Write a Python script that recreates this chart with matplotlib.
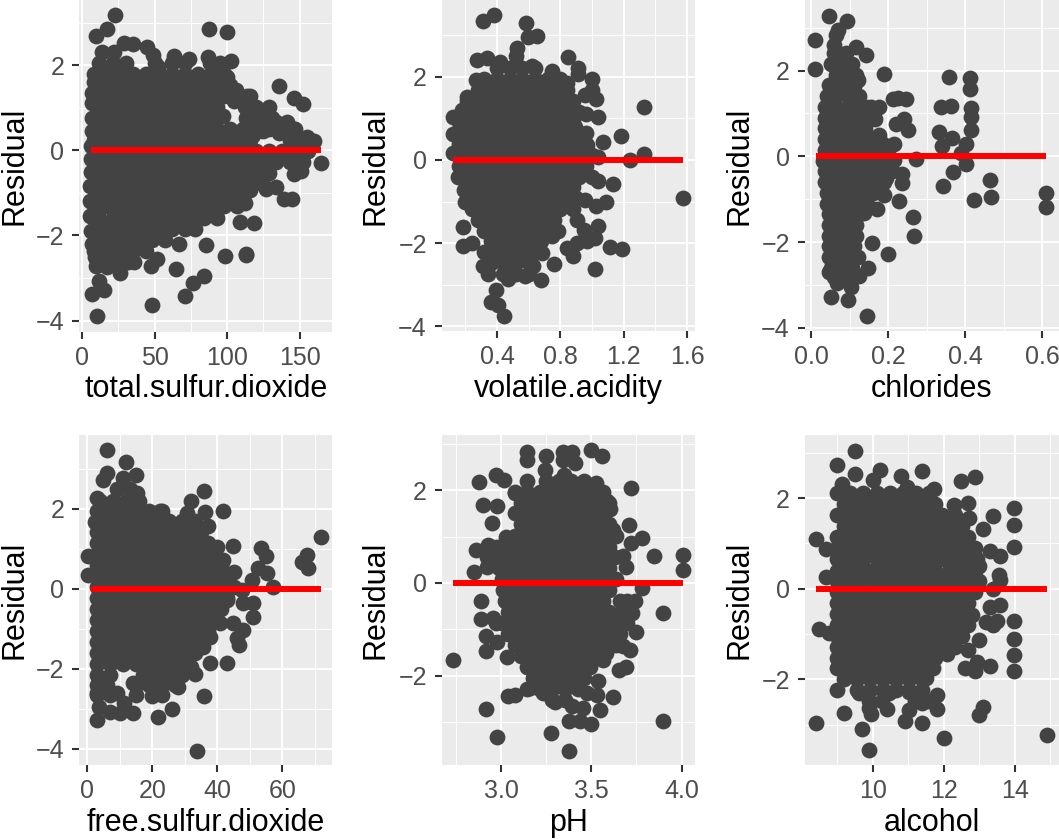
import matplotlib
matplotlib.use('agg')
import matplotlib.pyplot as plt

plt.rcParams['font.family'] = ['Liberation Sans', 'DejaVu Sans']

# *_edge_*: dots that can be made out on the rim of each cloud.
# *_levels / *_rows: estimated points inside the solid mass, one row of x per residual level.

# total.sulfur.dioxide
tsd_edge_x = [23, 87.8, 99.7, 17.5, 9.4, 29, 35.4, 44.8, 48.7, 63.4, 74, 86.6, 103, 52.4, 94, 100, 136, 146, 152, 114,
              129, 106, 118, 120, 134, 141, 146, 155, 160, 165, 151, 146, 151, 134, 127, 139, 145, 118.5, 109, 112,
              116, 92, 66.6, 85.7, 98.5, 113, 113, 84, 76.7, 65, 71, 48, 51.5, 47.5, 26, 31.5, 9.4, 12, 15, 6.7, 10, 17,
              8, 7, 7, 6.7, 7, 6, 6, 6, 5.5, 5.5, 5.5, 6, 7, 9,
              105, 97, 128, 125, 136, 118]
tsd_edge_y = [3.17, 2.86, 2.77, 2.84, 2.68, 2.53, 2.49, 2.43, 2.24, 2.21, 2.15, 2.18, 2.1, 1.96, 1.96, 1.73, 1.5, 1.22, 1.08, 1.28,
              1.02, 1.41, 1.02, 0.78, 0.67, 0.67, 0.51, 0.31, 0.22, -0.31, -0.49, -0.55, -0.16, -0.86, -0.9, -1.14, -1.15, -1.71, -1.69, -1.25,
              -0.94, -1.55, -2.21, -2.22, -2.49, -2.43, -2.47, -2.95, -3.12, -2.78, -3.43, -3.64, -2.55, -2.72, -2.89, -2.63, -2.73, -3.07, -3.29, -3.37, -3.9, -2.75,
              1.6, 1.35, 1.1, 0.75, 0.45, 0.1, -0.2, -0.5, -0.85, -1.2, -1.55, -1.9, -2.2, -2.5,
              1.15, 0.8, 0.72, 0.45, 0.4, 0.35]
tsd_levels = [2.3, 2.06, 1.8, 1.54, 1.28, 1.02, 0.76, 0.5, 0.24, -0.02, -0.28, -0.54, -0.8, -1.06, -1.32, -1.58, -1.84, -2.1, -2.36, -2.62]
tsd_rows = [
    [14, 22],
    [12, 21, 30, 50, 62, 71, 88, 95],
    [8, 17, 26, 35, 44, 53, 62, 71, 80, 89, 98],
    [12, 21, 30, 39, 48, 57, 66, 75, 84, 93, 102],
    [8, 17, 26, 35, 44, 53, 62, 71, 80, 89, 98, 107, 116],
    [12, 21, 30, 39, 48, 57, 66, 75, 84, 93, 112, 120],
    [8, 17, 26, 35, 44, 53, 62, 71, 80, 89, 113, 122, 131],
    [12, 21, 30, 39, 48, 57, 66, 75, 84, 93, 102, 111, 120, 129, 138, 147],
    [8, 17, 26, 35, 44, 53, 62, 71, 80, 89, 98, 107, 116, 143, 152],
    [12, 21, 30, 39, 48, 57, 66, 75, 84, 93, 102, 111, 120, 129, 138, 147, 156],
    [8, 17, 26, 35, 44, 53, 62, 71, 80, 89, 98, 107, 116, 125, 134, 143, 152],
    [12, 21, 30, 39, 48, 57, 66, 75, 84, 93, 102, 111, 120, 129],
    [8, 17, 26, 35, 44, 53, 62, 71, 80, 89, 98, 107, 116, 125],
    [12, 21, 30, 39, 48, 57, 66, 75, 84, 93, 102, 111],
    [8, 17, 26, 35, 44, 53, 62, 71, 80, 89, 98, 107],
    [12, 21, 30, 39, 48, 57, 66, 75, 84, 93],
    [8, 17, 26, 35, 44, 53, 62, 71, 78],
    [12, 21, 30, 39, 48, 57],
    [8, 17, 26, 35, 44],
    [12, 21, 30, 36],
]
tsd_line = [6, 165]

# volatile.acidity
va_edge_x = [0.383, 0.314, 0.583, 0.598, 0.655, 0.524, 0.52, 0.85, 0.276, 0.335, 0.42, 0.62, 0.914, 0.75, 0.914, 1.0, 0.27, 0.84, 1.0, 0.956,
             1.025, 0.208, 1.328, 0.124, 0.177, 0.962, 1.04, 0.893, 0.124, 1.18, 1.067, 0.966, 0.124, 1.328, 1.04, 1.24, 0.156, 1.04, 1.13, 0.19,
             1.577, 0.2, 1.09, 1.025, 0.956, 0.183, 0.183, 0.24, 1.04, 1.02, 0.947, 0.903, 0.745, 0.785, 0.714, 1.113, 1.19, 0.84, 0.878, 0.903,
             0.97, 0.762, 1.02, 0.682, 0.63, 0.676, 0.314, 0.344, 0.472, 0.577, 0.392, 0.362, 0.408, 0.442, 0.387, 0.46]
va_edge_y = [3.47, 3.33, 3.28, 2.96, 2.98, 2.68, 2.5, 2.46, 2.4, 2.44, 2.36, 2.26, 2.2, 2.14, 2.06, 1.94, 1.92, 1.84, 1.68, 1.56,
             1.46, 1.52, 1.26, 1.02, 1.2, 1.1, 1.02, 0.8, 0.62, 0.58, 0.42, 0.36, 0.16, 0.14, 0.06, 0.0, -0.4, -0.5, -0.58, -0.72,
             -0.92, -1.0, -1.0, -1.1, -0.96, -1.62, -2.06, -2.0, -1.6, -1.88, -1.68, -1.44, -1.84, -1.72, -1.68, -2.1, -2.14, -2.12, -2.32, -2.0,
             -1.96, -2.5, -2.62, -2.24, -2.56, -2.88, -2.54, -2.74, -2.86, -2.8, -3.12, -3.42, -3.48, -3.74, -2.32, -2.68]
va_levels = [2.2, 1.94, 1.68, 1.42, 1.16, 0.9, 0.64, 0.38, 0.12, -0.14, -0.4, -0.66, -0.92, -1.18, -1.44, -1.7, -1.96, -2.22, -2.48, -2.74]
va_rows = [
    [0.40, 0.48, 0.56, 0.64],
    [0.32, 0.40, 0.48, 0.56, 0.64, 0.72, 0.80],
    [0.28, 0.36, 0.44, 0.52, 0.60, 0.68, 0.76, 0.84],
    [0.21, 0.24, 0.32, 0.40, 0.48, 0.56, 0.64, 0.72, 0.80, 0.88],
    [0.20, 0.28, 0.36, 0.44, 0.52, 0.60, 0.68, 0.76, 0.84, 0.92],
    [0.16, 0.24, 0.32, 0.40, 0.48, 0.56, 0.64, 0.72, 0.80, 0.88],
    [0.20, 0.28, 0.36, 0.44, 0.52, 0.60, 0.68, 0.76, 0.84, 0.92, 0.96],
    [0.16, 0.24, 0.32, 0.40, 0.48, 0.56, 0.64, 0.72, 0.80, 0.88, 0.96],
    [0.16, 0.20, 0.28, 0.36, 0.44, 0.52, 0.60, 0.68, 0.76, 0.84, 0.92, 1.0],
    [0.16, 0.24, 0.32, 0.40, 0.48, 0.56, 0.64, 0.72, 0.80, 0.88, 0.96],
    [0.20, 0.28, 0.36, 0.44, 0.52, 0.60, 0.68, 0.76, 0.84, 0.92, 1.0],
    [0.24, 0.32, 0.40, 0.48, 0.56, 0.64, 0.72, 0.80, 0.88],
    [0.22, 0.28, 0.36, 0.44, 0.52, 0.60, 0.68, 0.76, 0.84, 0.90],
    [0.24, 0.32, 0.40, 0.48, 0.56, 0.64, 0.72, 0.80, 0.88],
    [0.28, 0.36, 0.44, 0.52, 0.60, 0.68, 0.76],
    [0.32, 0.40, 0.48, 0.56, 0.64],
    [0.36, 0.44, 0.52, 0.60, 0.68],
    [0.32, 0.40, 0.48, 0.56, 0.64],
    [0.36, 0.44, 0.52, 0.60],
    [0.44, 0.52, 0.60],
]
va_line = [0.124, 1.577]

# chlorides
chl_edge_x = [0.046, 0.094, 0.07, 0.063, 0.011, 0.059, 0.115, 0.143, 0.011, 0.19, 0.358, 0.412, 0.412, 0.121, 0.046, 0.226, 0.245, 0.213, 0.156, 0.176,
              0.336, 0.362, 0.414, 0.414, 0.414, 0.166, 0.241, 0.219, 0.251, 0.332, 0.366, 0.34, 0.401, 0.176, 0.158, 0.215, 0.185, 0.388, 0.271, 0.401,
              0.215, 0.236, 0.235, 0.369, 0.463, 0.343, 0.193, 0.466, 0.423, 0.61, 0.61, 0.229, 0.188, 0.171, 0.264, 0.266, 0.137, 0.157, 0.2, 0.121,
              0.147, 0.124, 0.102, 0.05, 0.096, 0.144, 0.068, 0.046]
chl_edge_y = [3.28, 3.16, 2.94, 2.83, 2.71, 2.59, 2.55, 2.36, 2.03, 1.93, 1.84, 1.82, 1.57, 1.79, 1.66, 1.35, 1.33, 1.33, 1.16, 1.16,
              1.16, 1.17, 1.12, 0.92, 0.61, 0.87, 0.87, 0.75, 0.61, 0.57, 0.43, 0.25, 0.3, 0.5, 0.42, 0.3, 0.3, 0.07, -0.05, -0.18,
              -0.09, -0.41, -0.63, -0.37, -0.55, -0.69, -0.51, -0.95, -1.02, -0.86, -1.19, -1.04, -0.9, -1.23, -1.42, -1.86, -1.33, -2.03, -2.28, -2.34,
              -2.59, -2.79, -3.04, -3.27, -3.35, -3.72, -2.96, -2.69]
chl_levels = [2.4, 2.15, 1.9, 1.65, 1.4, 1.15, 0.9, 0.65, 0.4, 0.15, -0.1, -0.35, -0.6, -0.85, -1.1, -1.35, -1.6, -1.85, -2.1, -2.35, -2.6, -2.8]
chl_rows = [
    [0.06, 0.09],
    [0.05, 0.08, 0.105],
    [0.065, 0.095, 0.115],
    [0.05, 0.08, 0.11],
    [0.04, 0.065, 0.095, 0.125],
    [0.035, 0.065, 0.095, 0.125, 0.145],
    [0.035, 0.05, 0.08, 0.11, 0.14],
    [0.035, 0.065, 0.095, 0.125, 0.14],
    [0.035, 0.05, 0.08, 0.11, 0.14],
    [0.035, 0.065, 0.095, 0.125, 0.15, 0.18, 0.2],
    [0.03, 0.05, 0.08, 0.11, 0.14, 0.17, 0.19],
    [0.035, 0.065, 0.095, 0.125, 0.155, 0.185, 0.21],
    [0.035, 0.05, 0.08, 0.11, 0.14, 0.17, 0.19],
    [0.04, 0.07, 0.10, 0.13, 0.16],
    [0.04, 0.055, 0.085, 0.115, 0.145],
    [0.045, 0.075, 0.105, 0.125],
    [0.045, 0.06, 0.09, 0.115],
    [0.045, 0.075, 0.105, 0.115],
    [0.045, 0.06, 0.09, 0.11],
    [0.045, 0.075, 0.10],
    [0.05, 0.065, 0.09, 0.105],
    [0.06, 0.09],
]
chl_line = [0.013, 0.61]

# free.sulfur.dioxide
fsd_edge_x = [6, 11.9, 15, 6, 4.9, 11, 35.9, 32, 41.8, 2.9, 15.2, 22.4, 30.6, 36.2, 37.2, 44.9, 40, 53.6, 54.9, 67.7,
              66, 68, 71.9, 0.3, 0.3, 2.4, 41.8, 45.2, 52.6, 55.2, 50.6, 57, 47.5, 48, 51, 51, 42.9, 44.9, 48, 46,
              46.8, 40.8, 37.7, 35.7, 37.7, 42.9, 32, 33.1, 35.9, 28, 26, 21.9, 22.9, 19.8, 15, 14.2, 10, 7, 3.7, 3.1,
              33.8, 2.9, 9, 11.3, 14.2]
fsd_edge_y = [3.47, 3.18, 2.85, 2.89, 2.73, 2.77, 2.45, 2.2, 1.95, 2.28, 2.39, 1.95, 1.89, 1.93, 1.58, 1.08, 1.06, 1.03, 0.83, 0.85,
              0.67, 0.53, 1.29, 0.83, 0.35, 1.68, 0.73, 0.43, 0.52, 0.39, 0.23, 0.06, -0.03, -0.36, -0.36, -0.69, -0.28, -0.86, -1.03, -1.23,
              -1.4, -0.86, -1.19, -1.44, -1.84, -1.86, -1.94, -2.13, -2.67, -2.44, -3.0, -3.19, -2.65, -2.67, -2.65, -3.11, -3.11, -3.07, -2.94, -3.28,
              -4.04, -2.61, -2.61, -2.86, -2.36]
fsd_levels = [2.5, 2.2, 1.95, 1.7, 1.42, 1.15, 0.87, 0.6, 0.32, 0.05, -0.22, -0.5, -0.77, -1.05, -1.32, -1.6, -1.87, -2.15, -2.4, -2.65]
fsd_rows = [
    [9, 13],
    [4, 8, 12, 16],
    [3, 7, 11, 15, 19, 23],
    [5, 9, 13, 17, 21, 25, 29, 33],
    [3, 7, 11, 15, 19, 23, 27, 31, 35],
    [3, 5, 9, 13, 17, 21, 25, 29, 33, 37],
    [3, 7, 11, 15, 19, 23, 27, 31, 35, 39],
    [3, 5, 9, 13, 17, 21, 25, 29, 33, 37, 41],
    [3, 7, 11, 15, 19, 23, 27, 31, 35, 39, 43],
    [3, 5, 9, 13, 17, 21, 25, 29, 33, 37, 41, 45],
    [3, 7, 11, 15, 19, 23, 27, 31, 35, 39, 43],
    [3, 5, 9, 13, 17, 21, 25, 29, 33, 37, 41],
    [3, 7, 11, 15, 19, 23, 27, 31, 35, 39],
    [3, 5, 9, 13, 17, 21, 25, 29, 33, 37],
    [3, 7, 11, 15, 19, 23, 27, 31, 35],
    [3, 5, 9, 13, 17, 21, 25, 29, 33],
    [3, 7, 11, 15, 19, 23, 27, 31],
    [3, 7, 17, 21, 25, 29],
    [3, 6, 15, 19, 23, 27],
    [3, 7],
]
fsd_line = [1, 72]

# pH
ph_edge_x = [3.146, 3.146, 3.249, 3.345, 3.391, 3.345, 3.41, 3.498, 3.561, 3.244, 3.349, 2.97, 3.017, 2.876, 3.146, 3.524, 3.72, 3.077, 2.899, 2.976,
             2.948, 3.585, 3.603, 3.708, 3.782, 3.72, 3.03, 2.926, 2.862, 3.847, 4.01, 4.01, 3.673, 3.691, 2.85, 2.92, 3.62, 3.779, 2.887, 3.742,
             3.899, 2.887, 3.723, 3.747, 2.917, 2.976, 2.917, 2.958, 3.714, 3.677, 2.736, 3.031, 3.581, 3.691, 3.655, 3.566, 3.539, 3.53, 3.474, 3.622,
             3.041, 3.077, 2.915, 3.548, 3.452, 3.391, 3.299, 3.498, 3.437, 3.376, 3.899, 2.978, 3.277, 3.376, 3.16, 3.234, 3.64]
ph_edge_y = [2.83, 2.64, 2.74, 2.83, 2.83, 2.64, 2.58, 2.87, 2.73, 2.44, 2.33, 2.32, 2.22, 2.17, 2.19, 2.15, 2.04, 1.94, 1.68, 1.66,
             1.3, 1.76, 1.6, 1.25, 0.96, 0.86, 1.0, 0.82, 0.7, 0.57, 0.6, 0.27, 0.57, 0.35, 0.24, 0.35, 1.14, -0.12, -0.4, -0.4,
             -0.64, -0.78, -0.65, -1.05, -1.14, -1.27, -1.47, -0.76, -1.45, -1.37, -1.66, -1.6, -1.52, -1.81, -1.89, -1.66, -2.11, -2.42, -2.38, -2.47,
             -2.45, -2.42, -2.73, -2.74, -2.69, -2.65, -2.56, -3.05, -2.98, -2.99, -2.97, -3.33, -3.24, -3.62, -2.27, -2.38, -1.01]
ph_levels = [2.2, 1.97, 1.73, 1.5, 1.26, 1.02, 0.78, 0.55, 0.31, 0.08, -0.16, -0.4, -0.63, -0.87, -1.1, -1.34, -1.58, -1.81, -2.05, -2.29, -2.52]
ph_rows = [
    [3.25, 3.32, 3.39, 3.46],
    [3.075, 3.145, 3.215, 3.285, 3.355, 3.425, 3.495, 3.565],
    [3.11, 3.18, 3.25, 3.32, 3.39, 3.46, 3.53, 3.6],
    [3.075, 3.145, 3.215, 3.285, 3.355, 3.425, 3.495, 3.565],
    [3.11, 3.18, 3.25, 3.32, 3.39, 3.46, 3.53, 3.6],
    [3.075, 3.145, 3.215, 3.285, 3.355, 3.425, 3.495, 3.565, 3.635],
    [2.95, 2.98, 3.04, 3.11, 3.18, 3.25, 3.32, 3.39, 3.46, 3.53, 3.6],
    [2.92, 2.96, 3.005, 3.075, 3.145, 3.215, 3.285, 3.355, 3.425, 3.495, 3.565, 3.63],
    [2.99, 3.04, 3.11, 3.18, 3.25, 3.32, 3.39, 3.46, 3.53, 3.6],
    [3.005, 3.075, 3.145, 3.215, 3.285, 3.355, 3.425, 3.495, 3.565, 3.635],
    [3.01, 3.04, 3.11, 3.18, 3.25, 3.32, 3.39, 3.46, 3.53, 3.6],
    [3.02, 3.075, 3.145, 3.215, 3.285, 3.355, 3.425, 3.495, 3.565, 3.66, 3.7],
    [3.04, 3.11, 3.18, 3.25, 3.32, 3.39, 3.46, 3.53, 3.6, 3.67],
    [2.97, 3.005, 3.075, 3.145, 3.215, 3.285, 3.355, 3.425, 3.495, 3.565, 3.635, 3.7],
    [3.04, 3.11, 3.18, 3.25, 3.32, 3.39, 3.46, 3.53, 3.6, 3.66],
    [3.075, 3.145, 3.215, 3.285, 3.355, 3.425, 3.495, 3.565, 3.635],
    [3.11, 3.18, 3.25, 3.32, 3.39, 3.46, 3.53],
    [3.145, 3.215, 3.285, 3.355, 3.425, 3.495],
    [3.18, 3.25, 3.32, 3.39, 3.46],
    [3.145, 3.215, 3.285, 3.355, 3.425],
    [3.285, 3.355],
]
ph_line = [2.736, 4.01]

# alcohol
alc_edge_x = [9.49, 9.0, 10.2, 9.49, 11.4, 10.8, 12.88, 12.5, 10, 9.15, 11.73, 10.98, 12.3, 12.7, 13.98, 13.39, 13.98, 13.11, 12.71, 13.98,
              8.39, 8.68, 13.3, 13.6, 13.0, 13.56, 13.6, 13.4, 8.68, 13.6, 13.3, 12.8, 8.49, 13.51, 13.39, 13.98, 13.18, 13.98, 13.98, 13.98,
              13.0, 12.7, 12.1, 12.95, 13.3, 12.6, 12.88, 11.7, 11.5, 9.0, 9.62, 11.8, 11.8, 13.11, 13.0, 10.39, 9.96, 9.9, 9.19, 10.9,
              11.02, 11.4, 8.39, 9.69, 9.9, 12, 14.9, 11.4, 10.46, 11.02, 9.0, 8.77]
alc_edge_y = [3.04, 2.73, 2.62, 2.54, 2.6, 2.49, 2.47, 2.38, 2.4, 2.32, 2.19, 2.25, 1.85, 1.9, 1.77, 1.61, 1.4, 1.32, 1.55, 0.91,
              1.1, 0.87, 0.83, 0.73, 0.49, 0.3, 0.19, -0.01, 0.26, -0.35, -0.4, -0.58, -0.89, -0.71, -0.8, -0.71, -0.74, -1.12, -1.46, -1.82,
              -1.13, -1.35, -1.44, -1.61, -1.71, -1.74, -1.81, -1.76, -1.98, -2.24, -2.31, -2.35, -2.66, -2.6, -2.79, -2.65, -2.76, -2.64, -2.75, -2.91,
              -2.68, -2.97, -2.97, -3.1, -3.57, -3.29, -3.23, -2.53, -2.31, -2.27, -0.91, -0.98]
alc_levels = [2.1, 1.86, 1.62, 1.38, 1.13, 0.89, 0.65, 0.4, 0.16, -0.08, -0.32, -0.56, -0.8, -1.04, -1.28, -1.52, -1.76, -2.0, -2.24, -2.48]
alc_rows = [
    [9.0, 9.37, 9.74, 10.11, 10.48, 10.85, 11.22, 11.59],
    [9.18, 9.55, 9.92, 10.29, 10.66, 11.03, 11.4, 11.77],
    [9.0, 9.37, 9.74, 10.11, 10.48, 10.85, 11.22, 11.59, 11.96, 12.33],
    [9.18, 9.55, 9.92, 10.29, 10.66, 11.03, 11.4, 11.77, 12.14, 12.51],
    [9.0, 9.37, 9.74, 10.11, 10.48, 10.85, 11.22, 11.59, 11.96, 12.33, 12.7],
    [9.0, 9.18, 9.55, 9.92, 10.29, 10.66, 11.03, 11.4, 11.77, 12.14, 12.51, 12.88],
    [9.0, 9.37, 9.74, 10.11, 10.48, 10.85, 11.22, 11.59, 11.96, 12.33, 12.7, 12.95],
    [9.0, 9.18, 9.55, 9.92, 10.29, 10.66, 11.03, 11.4, 11.77, 12.14, 12.51, 12.88],
    [9.0, 9.37, 9.74, 10.11, 10.48, 10.85, 11.22, 11.59, 11.96, 12.33, 12.7, 13.0],
    [9.0, 9.18, 9.55, 9.92, 10.29, 10.66, 11.03, 11.4, 11.77, 12.14, 12.51, 12.88],
    [9.0, 9.37, 9.74, 10.11, 10.48, 10.85, 11.22, 11.59, 11.96, 12.33, 12.7],
    [9.0, 9.18, 9.55, 9.92, 10.29, 10.66, 11.03, 11.4, 11.77, 12.14, 12.51],
    [9.0, 9.37, 9.74, 10.11, 10.48, 10.85, 11.22, 11.59, 11.96, 12.33, 12.7],
    [9.0, 9.18, 9.55, 9.92, 10.29, 10.66, 11.03, 11.4, 11.77, 12.14, 12.51],
    [9.0, 9.37, 9.74, 10.11, 10.48, 10.85, 11.22, 11.59, 11.96, 12.33],
    [9.0, 9.18, 9.55, 9.92, 10.29, 10.66, 11.03, 11.4, 11.77],
    [9.0, 9.37, 9.74, 10.11, 10.48, 10.85, 11.22, 11.59],
    [9.18, 9.55, 9.92, 10.29, 10.66, 11.03, 11.4],
    [9.55, 9.92, 10.29, 10.66, 11.03, 11.4],
    [9.9, 10.25, 11.2, 11.6],
]
alc_line = [8.4, 14.9]

names = ['total.sulfur.dioxide', 'volatile.acidity', 'chlorides',
         'free.sulfur.dioxide', 'pH', 'alcohol']
edges_x = [tsd_edge_x, va_edge_x, chl_edge_x, fsd_edge_x, ph_edge_x, alc_edge_x]
edges_y = [tsd_edge_y, va_edge_y, chl_edge_y, fsd_edge_y, ph_edge_y, alc_edge_y]
levels = [tsd_levels, va_levels, chl_levels, fsd_levels, ph_levels, alc_levels]
rows = [tsd_rows, va_rows, chl_rows, fsd_rows, ph_rows, alc_rows]
lines = [tsd_line, va_line, chl_line, fsd_line, ph_line, alc_line]

x_major = [[0, 50, 100, 150], [0.4, 0.8, 1.2, 1.6], [0.0, 0.2, 0.4, 0.6],
           [0, 20, 40, 60], [3.0, 3.5, 4.0], [10, 12, 14]]
x_minor = [[25, 75, 125], [0.2, 0.6, 1.0, 1.4], [0.1, 0.3, 0.5],
           [10, 30, 50, 70], [2.75, 3.25, 3.75], [9, 11, 13, 15]]
x_fmt = ['%d', '%.1f', '%.1f', '%d', '%.1f', '%d']
y_major = [[-4, -2, 0, 2], [-4, -2, 0, 2], [-4, -2, 0, 2],
           [-4, -2, 0, 2], [-2, 0, 2], [-2, 0, 2]]
y_minor = [[-3, -1, 1, 3], [-3, -1, 1, 3], [-3, -1, 1, 3],
           [-3, -1, 1, 3], [-3, -1, 1, 3], [-3, -1, 1, 3]]
x_limits = [(-1.9, 172.5), (0.051, 1.65), (-0.017, 0.643),
            (-2.46, 75.4), (2.672, 4.074), (8.085, 15.25)]
y_limits = [(-4.27, 3.53), (-4.11, 3.84), (-4.07, 3.645),
            (-4.4, 3.85), (-3.93, 3.19), (-3.89, 3.39)]

W, H = 1059, 839
# panel boxes in pixels: left, top, right, bottom
boxes = [(79.3, 0, 332.3, 332), (441.7, 0, 695, 331), (804.7, 0, 1059, 331),
         (79.3, 435, 332.3, 765), (441.7, 435, 695, 765), (804.7, 435, 1059, 765)]
ylabel_px = [15, 376, 739, 15, 376, 739]
xlabel_px = [389, 389, 389, 823, 823, 823]

fig = plt.figure(figsize=(W / 100, H / 100), dpi=100)

for i in range(6):
    l, t, r, b = boxes[i]
    ax = fig.add_axes([l / W, 1 - b / H, (r - l) / W, (b - t) / H])
    ax.set_facecolor('#EBEBEB')
    for s in ax.spines.values():
        s.set_visible(False)

    xs = list(edges_x[i])
    ys = list(edges_y[i])
    for lev, row in zip(levels[i], rows[i]):
        xs += row
        ys += [lev] * len(row)

    ax.scatter(xs, ys, s=130, color='#434343', linewidths=0, zorder=3)
    ax.plot(lines[i], [0, 0], color='#FF0000', lw=4.3, solid_capstyle='butt', zorder=4)

    ax.set_xlim(x_limits[i])
    ax.set_ylim(y_limits[i])
    ax.set_xticks(x_major[i])
    ax.set_xticklabels([x_fmt[i] % v for v in x_major[i]])
    ax.set_yticks(y_major[i])
    ax.set_yticklabels([str(v).replace('-', '\u2212') for v in y_major[i]])
    ax.set_xticks(x_minor[i], minor=True)
    ax.set_yticks(y_minor[i], minor=True)
    ax.grid(which='major', color='white', lw=1.3, zorder=1)
    ax.grid(which='minor', color='white', lw=0.65, zorder=1)
    ax.set_axisbelow(True)
    ax.tick_params(which='major', length=5.2, width=1.5, color='#333333',
                   labelcolor='#4D4D4D', labelsize=18)
    ax.tick_params(axis='x', which='major', pad=5)
    ax.tick_params(axis='y', which='major', pad=5.5)
    ax.tick_params(which='minor', length=0)

    fig.text((l + r) / 2 / W, 1 - xlabel_px[i] / H, names[i], fontsize=22,
             ha='center', va='center', color='black')
    fig.text(ylabel_px[i] / W, 1 - (t + b) / 2 / H, 'Residual', fontsize=22,
             rotation=90, ha='center', va='center', color='black')

fig.savefig('out.png', dpi=100)
